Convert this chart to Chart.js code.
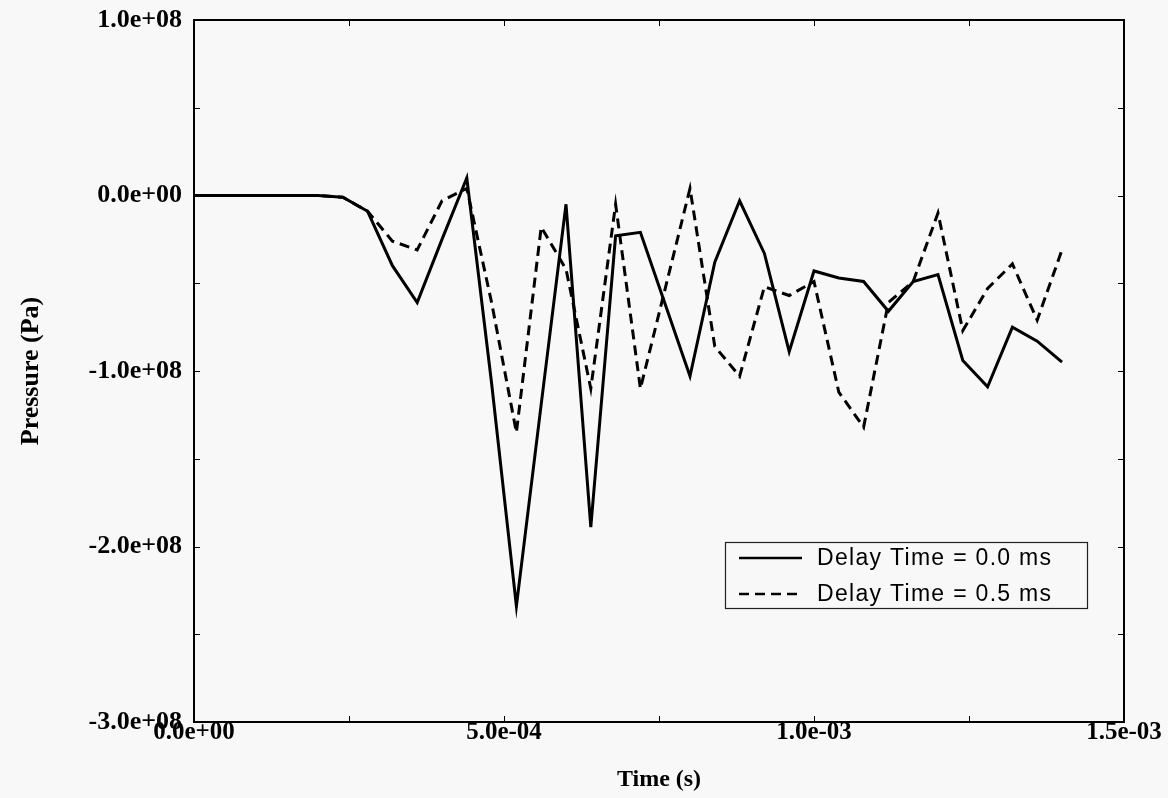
<!DOCTYPE html>
<html>
<head>
<meta charset="utf-8">
<script src="https://cdn.jsdelivr.net/npm/chart.js@4.4.1/dist/chart.umd.min.js"></script>
<style>
  html, body { margin: 0; padding: 0; background: #f8f8f8; }
  #wrap { width: 1168px; height: 798px; position: relative; }
</style>
</head>
<body>
<div id="wrap"><canvas id="pressure-chart"></canvas></div>
<script>
// 时间点 (s)
const timeValues = [
    0, 4e-5, 8e-5, 1.2e-4, 1.6e-4, 2.0e-4, 2.4e-4, 2.8e-4, 3.2e-4, 3.6e-4,
    4.0e-4, 4.4e-4, 4.8e-4, 5.2e-4, 5.6e-4, 6.0e-4, 6.4e-4, 6.8e-4, 7.2e-4, 7.6e-4,
    8.0e-4, 8.4e-4, 8.8e-4, 9.2e-4, 9.6e-4, 1.0e-3, 1.04e-3, 1.08e-3, 1.12e-3, 1.16e-3,
    1.2e-3, 1.24e-3, 1.28e-3, 1.32e-3, 1.36e-3, 1.4e-3
];

// Delay Time = 0.0 ms (Pa)
const pressureDelay00 = [
    0, 0, 0, 0, 0, 0, -0.01e8, -0.09e8, -0.40e8, -0.61e8,
    -0.25e8, 0.10e8, -1.07e8, -2.34e8, -1.19e8, -0.05e8, -1.89e8, -0.23e8, -0.21e8, -0.62e8,
    -1.03e8, -0.38e8, -0.03e8, -0.33e8, -0.89e8, -0.43e8, -0.47e8, -0.49e8, -0.66e8, -0.49e8,
    -0.45e8, -0.94e8, -1.09e8, -0.75e8, -0.83e8, -0.95e8
];

// Delay Time = 0.5 ms (Pa)
const pressureDelay05 = [
    0, 0, 0, 0, 0, 0, -0.01e8, -0.09e8, -0.26e8, -0.31e8,
    -0.03e8, 0.04e8, -0.61e8, -1.35e8, -0.18e8, -0.42e8, -1.10e8, -0.05e8, -1.10e8, -0.53e8,
    0.04e8, -0.86e8, -1.03e8, -0.52e8, -0.57e8, -0.49e8, -1.12e8, -1.32e8, -0.61e8, -0.49e8,
    -0.10e8, -0.77e8, -0.53e8, -0.39e8, -0.71e8, -0.31e8
];

// 刻度
const xTickValues = [0, 5e-4, 1e-3, 1.5e-3];
const yTickValues = [-3e8, -2e8, -1e8, 0, 1e8];

const seriesLabels = ['Delay Time = 0.0 ms', 'Delay Time = 0.5 ms'];

// 科学计数法格式: 1.0e+08
function formatExp(v) {
    const parts = Number(v).toExponential(1).split('e');
    let exp = parseInt(parts[1], 10);
    const sign = exp < 0 ? '-' : '+';
    exp = Math.abs(exp);
    return parts[0] + 'e' + sign + (exp < 10 ? '0' + exp : exp);
}

function toPoints(values) {
    return values.map((v, i) => ({ x: timeValues[i], y: v }));
}

// 边框和向内的小刻度
const frameTicksPlugin = {
    id: 'frameTicks',
    afterDatasetsDraw(chart) {
        const { ctx, chartArea } = chart;
        const xs = chart.scales.x;
        const ys = chart.scales.y;
        ctx.save();
        ctx.strokeStyle = '#000';
        ctx.lineWidth = 1;
        for (let v = xs.min; v <= xs.max + 1e-12; v += 2.5e-4) {
            const px = Math.round(xs.getPixelForValue(v)) + 0.5;
            ctx.beginPath();
            ctx.moveTo(px, chartArea.bottom);
            ctx.lineTo(px, chartArea.bottom - 6);
            ctx.moveTo(px, chartArea.top);
            ctx.lineTo(px, chartArea.top + 6);
            ctx.stroke();
        }
        for (let v = ys.min; v <= ys.max + 1; v += 0.5e8) {
            const py = Math.round(ys.getPixelForValue(v)) + 0.5;
            ctx.beginPath();
            ctx.moveTo(chartArea.left, py);
            ctx.lineTo(chartArea.left + 6, py);
            ctx.moveTo(chartArea.right, py);
            ctx.lineTo(chartArea.right - 6, py);
            ctx.stroke();
        }
        ctx.lineWidth = 2;
        ctx.strokeRect(chartArea.left, chartArea.top, chartArea.right - chartArea.left, chartArea.bottom - chartArea.top);
        ctx.restore();
    }
};

// 带边框的图例
const boxLegendPlugin = {
    id: 'boxLegend',
    afterDraw(chart) {
        const { ctx, chartArea } = chart;
        const boxW = 362;
        const boxH = 66;
        const boxX = chartArea.right - 37 - boxW;
        const boxY = chartArea.bottom - 180;
        ctx.save();
        ctx.fillStyle = '#f8f8f8';
        ctx.fillRect(boxX, boxY, boxW, boxH);
        ctx.strokeStyle = '#222';
        ctx.lineWidth = 1.2;
        ctx.strokeRect(boxX + 0.5, boxY + 0.5, boxW, boxH);

        chart.data.datasets.forEach((ds, i) => {
            const rowY = boxY + 16 + i * 36;
            ctx.beginPath();
            ctx.strokeStyle = '#000';
            ctx.lineWidth = 2.5;
            ctx.setLineDash(ds.borderDash || []);
            ctx.moveTo(boxX + 14, rowY);
            ctx.lineTo(boxX + 77, rowY);
            ctx.stroke();
            ctx.setLineDash([]);

            ctx.fillStyle = '#000';
            ctx.font = '23px "Liberation Sans", Arial, sans-serif';
            ctx.letterSpacing = '1.3px';
            ctx.textBaseline = 'middle';
            ctx.textAlign = 'left';
            ctx.fillText(ds.label, boxX + 92, rowY + 1);
        });
        ctx.restore();
    }
};

function renderChart() {
    const ctx = document.getElementById('pressure-chart').getContext('2d');
    const serif = '"Liberation Serif", "Times New Roman", serif';
    const xTickFont = { family: serif, size: 25, weight: 'bold' };
    const yTickFont = { family: serif, size: 26, weight: 'bold' };

    return new Chart(ctx, {
        type: 'line',
        data: {
            datasets: [
                {
                    label: seriesLabels[0],
                    data: toPoints(pressureDelay00),
                    borderColor: '#000',
                    borderWidth: 3,
                    pointRadius: 0,
                    tension: 0,
                    fill: false
                },
                {
                    label: seriesLabels[1],
                    data: toPoints(pressureDelay05),
                    borderColor: '#000',
                    borderWidth: 3,
                    borderDash: [10, 6],
                    pointRadius: 0,
                    tension: 0,
                    fill: false
                }
            ]
        },
        options: {
            responsive: true,
            maintainAspectRatio: false,
            animation: false,
            layout: { padding: { left: 0, right: 44, top: 20, bottom: 0 } },
            plugins: {
                legend: { display: false },
                tooltip: { enabled: false }
            },
            scales: {
                x: {
                    type: 'linear',
                    min: 0,
                    max: 1.5e-3,
                    afterBuildTicks: (scale) => { scale.ticks = xTickValues.map(v => ({ value: v })); },
                    afterFit: (scale) => { scale.height = 76; },
                    grid: { display: false, drawTicks: false },
                    border: { display: false },
                    ticks: {
                        autoSkip: false,
                        maxRotation: 0,
                        padding: -4,
                        color: '#000',
                        font: xTickFont,
                        callback: (v) => formatExp(v)
                    },
                    title: {
                        display: true,
                        text: 'Time (s)',
                        color: '#000',
                        font: { family: serif, size: 24, weight: 'bold' },
                        padding: { top: 0, bottom: 4 }
                    }
                },
                y: {
                    type: 'linear',
                    min: -3e8,
                    max: 1e8,
                    afterBuildTicks: (scale) => { scale.ticks = yTickValues.map(v => ({ value: v })); },
                    afterFit: (scale) => {
                        scale.width = 194;
                        scale.paddingTop = 0;
                        scale.paddingBottom = 0;
                    },
                    grid: { display: false, drawTicks: false },
                    border: { display: false },
                    ticks: {
                        autoSkip: false,
                        padding: 12,
                        color: '#000',
                        font: yTickFont,
                        callback: (v) => formatExp(v)
                    },
                    title: {
                        display: true,
                        text: 'Pressure (Pa)',
                        color: '#000',
                        font: { family: serif, size: 26, weight: 'bold' },
                        padding: { top: 16, bottom: 0 }
                    }
                }
            }
        },
        plugins: [frameTicksPlugin, boxLegendPlugin]
    });
}

renderChart();
</script>
</body>
</html>
